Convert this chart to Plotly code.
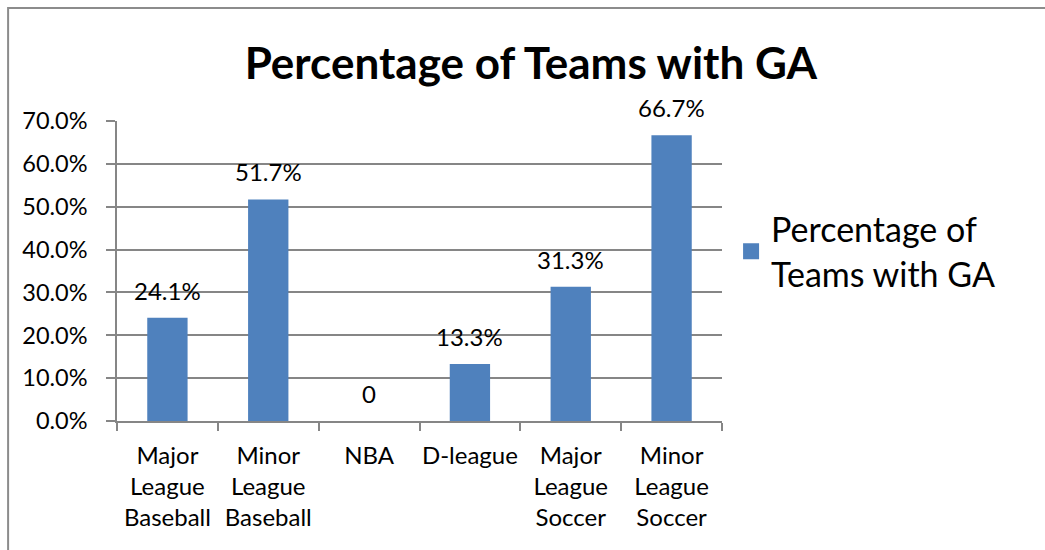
import plotly.graph_objects as go

categories = ["Major<br>League<br>Baseball", "Minor<br>League<br>Baseball", "NBA",
              "D-league", "Major<br>League<br>Soccer", "Minor<br>League<br>Soccer"]
values = [0.241, 0.517, 0.0, 0.133, 0.313, 0.667]
labels = ["24.1%", "51.7%", "0", "13.3%", "31.3%", "66.7%"]
series_name = "Percentage of<br>Teams with GA"

BAR = "#4F81BD"
GRID = "#868686"
FONT = "Lato"

fig = go.Figure()
fig.add_trace(go.Bar(x=categories, y=values, marker=dict(color=BAR, line=dict(width=0)),
                     width=0.4, showlegend=False))
fig.add_trace(go.Scatter(x=[None], y=[None], mode="markers", name=series_name,
                         marker=dict(symbol="square", size=20, color=BAR), showlegend=True))

for c, v, t in zip(categories, values, labels):
    fig.add_annotation(x=c, y=v, text=t, showarrow=False, yanchor="bottom", yshift=11,
                       font=dict(family=FONT, size=24, color="black"))

# chart border
fig.add_shape(type="rect", xref="paper", yref="paper", x0=-0.18, x1=1.6, y0=-0.5, y1=1.3767,
              line=dict(color="#8C8C8C", width=2), layer="below")

fig.update_layout(
    width=1045, height=550,
    margin=dict(l=117, r=323, t=121, b=129, autoexpand=False),
    paper_bgcolor="white", plot_bgcolor="white",
    font=dict(family=FONT, size=24, color="black"),
    title=dict(text="<b>Percentage of Teams with GA</b>", x=0.508, xanchor="center",
               y=0.885, yanchor="middle", font=dict(family=FONT, size=44, color="black")),
    bargap=0.6,
    legend=dict(x=1.015, y=0.565, xanchor="left", yanchor="middle",
                font=dict(family=FONT, size=34, color="black"), itemsizing="trace",
                bgcolor="rgba(0,0,0,0)"),
    xaxis=dict(showline=True, linecolor=GRID, linewidth=1.5, ticks="outside", tickson="boundaries",
               ticklen=8, tickcolor=GRID, tickwidth=1.5, showgrid=False, tickangle=0,
               automargin=False, tickfont=dict(size=24), ticklabelstandoff=12),
    yaxis=dict(range=[0, 0.70], dtick=0.1, tickformat=".1%", showline=True, linecolor=GRID,
               linewidth=1.5, ticks="outside", ticklen=9, tickcolor=GRID, tickwidth=1.5,
               gridcolor=GRID, gridwidth=1.5, zeroline=False, tickfont=dict(size=23.5),
               automargin=False, ticklabelstandoff=14),
)

fig.write_html("out.html")
